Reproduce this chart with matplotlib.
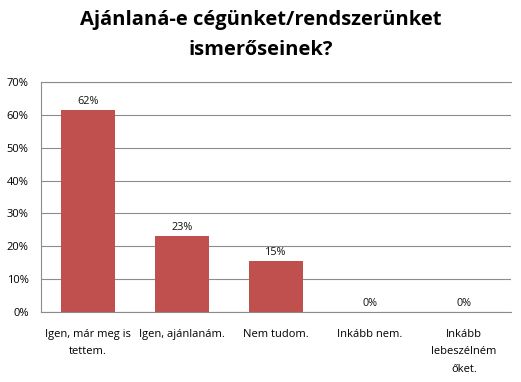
import matplotlib
matplotlib.use("Agg")
import matplotlib.pyplot as plt
from matplotlib.ticker import FuncFormatter

categories = ["Igen, már meg is\ntettem.", "Igen, ajánlanám.", "Nem tudom.", "Inkább nem.", "Inkább\nlebeszélném\nőket."]
values = [61.5, 23.1, 15.4, 0.0, 0.0]
labels = ["62%", "23%", "15%", "0%", "0%"]
yticks = [0, 10, 20, 30, 40, 50, 60, 70]
title = "Ajánlaná-e cégünket/rendszerünket\nismerőseinek?"

plt.rcParams['font.family'] = ['Open Sans', 'DejaVu Sans']

fig = plt.figure(figsize=(5.21, 3.82), dpi=100)
W, H = 521, 382
ax = fig.add_axes([41 / W, 1 - 312 / H, 470 / W, 230 / H])

x = list(range(len(categories)))
bars = ax.bar(x, values, width=0.57, color="#C0504D", zorder=3)
for xi, v, lab in zip(x, values, labels):
    ax.text(xi, v + 1.0, lab, ha="center", va="bottom", fontsize=7.8, color="#111111")

ax.set_xlim(-0.5, len(categories) - 0.5)
ax.set_ylim(0, 70)
ax.set_yticks(yticks)
ax.yaxis.set_major_formatter(FuncFormatter(lambda v, p: f"{int(v)}%"))
ax.grid(axis="y", color="#8c8c8c", linewidth=0.8, zorder=0)
ax.set_xticks(x)
ax.set_xticklabels(categories, fontsize=8, linespacing=1.85)
ax.tick_params(axis="y", labelsize=8, length=0, pad=9)
ax.tick_params(axis="x", length=0, pad=12)
for s in ["left", "top", "right", "bottom"]:
    ax.spines[s].set_color("#8c8c8c")
    ax.spines[s].set_linewidth(0.8)
ax.spines["right"].set_visible(False)

fig.text(0.5, 1 - 35 / H, title, ha="center", va="center", fontsize=14.5, fontweight="bold", linespacing=1.65)

fig.savefig("out.png", dpi=100)
